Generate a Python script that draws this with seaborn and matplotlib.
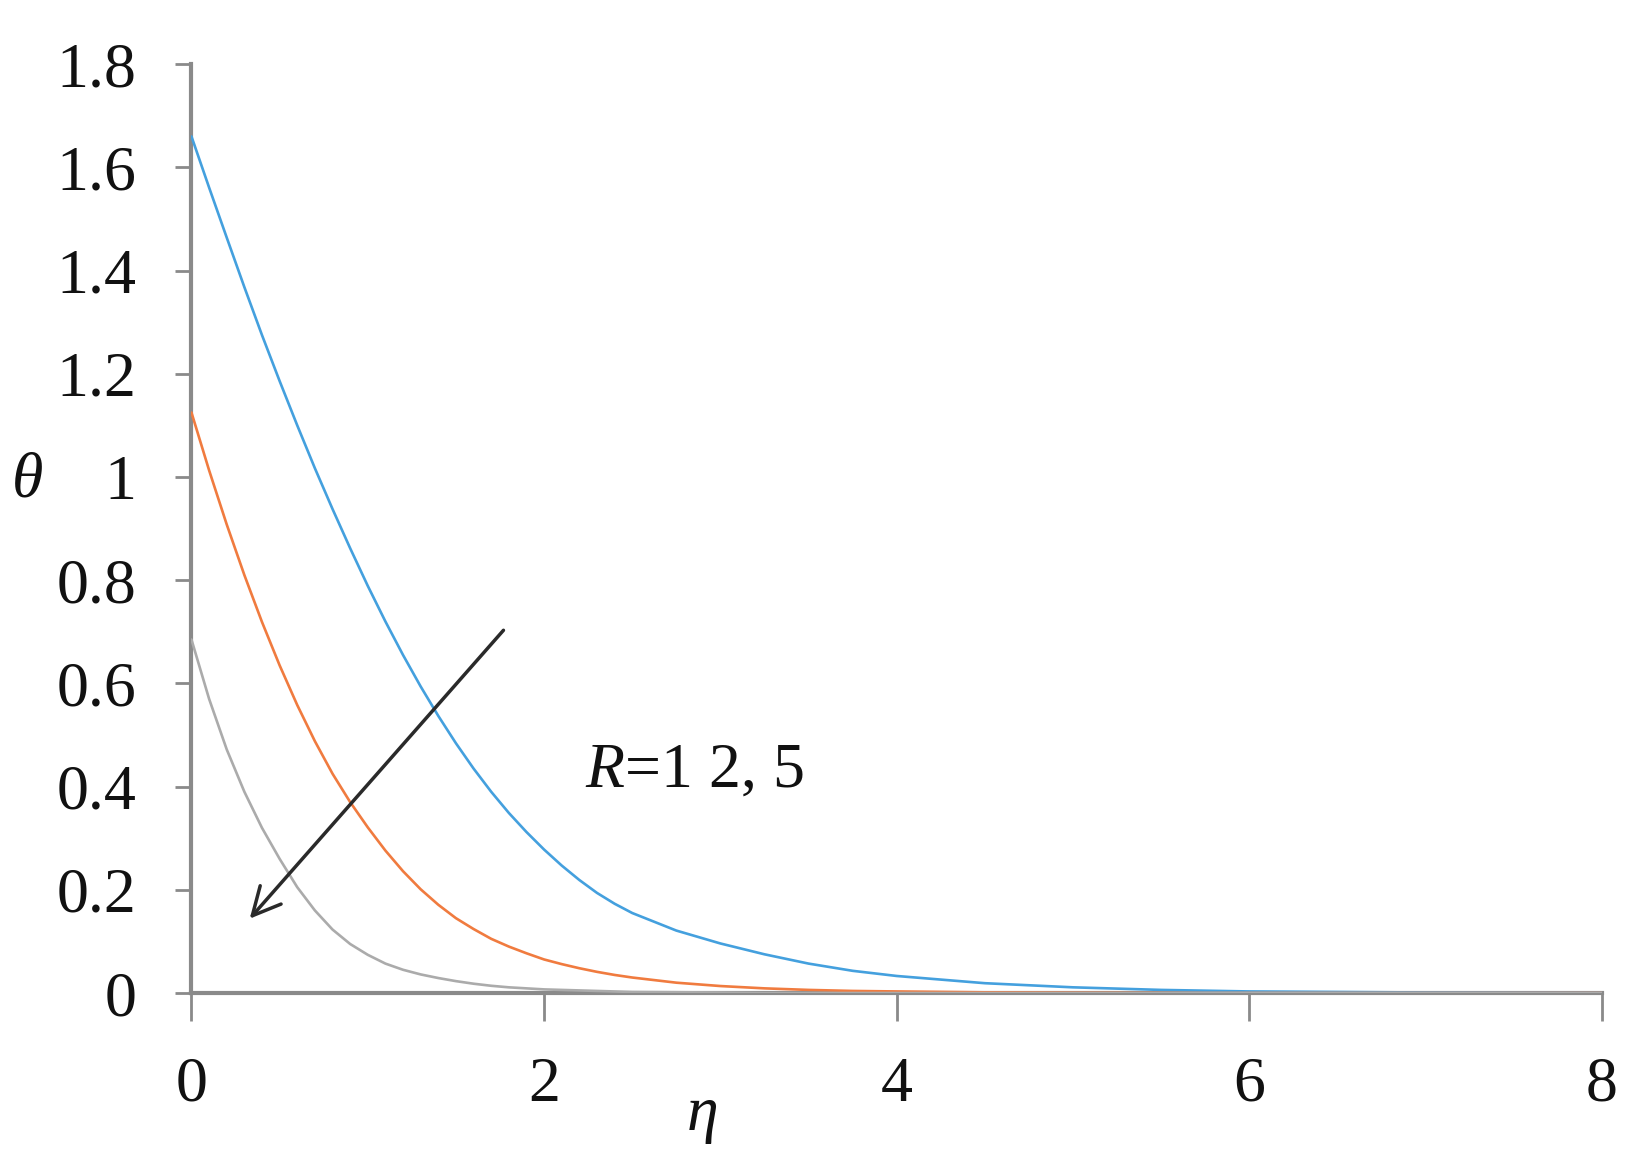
import matplotlib
matplotlib.use("Agg")
import matplotlib.pyplot as plt
import pandas as pd
import seaborn as sns

# eta grid and temperature profiles
eta = [0, 0.1, 0.2, 0.3, 0.4, 0.5, 0.6, 0.7, 0.8, 0.9, 1.0, 1.1, 1.2, 1.3,
       1.4, 1.5, 1.6, 1.7, 1.8, 1.9, 2.0, 2.1, 2.2, 2.3, 2.4, 2.5, 2.75,
       3.0, 3.25, 3.5, 3.75, 4.0, 4.5, 5.0, 5.5, 6.0, 6.5, 7.0, 8.0]
theta_r1 = [1.66, 1.561, 1.464, 1.368, 1.275, 1.186, 1.100, 1.017, 0.938,
            0.862, 0.789, 0.720, 0.655, 0.594, 0.537, 0.484, 0.435, 0.390,
            0.349, 0.312, 0.278, 0.247, 0.219, 0.194, 0.173, 0.155, 0.121,
            0.096, 0.075, 0.057, 0.043, 0.033, 0.019, 0.011, 0.006, 0.003,
            0.002, 0.001, 0.0]
theta_r2 = [1.125, 1.013, 0.908, 0.810, 0.719, 0.635, 0.558, 0.488, 0.425,
            0.370, 0.321, 0.276, 0.236, 0.201, 0.171, 0.145, 0.124, 0.105,
            0.090, 0.077, 0.065, 0.056, 0.048, 0.041, 0.035, 0.030, 0.020,
            0.0135, 0.009, 0.006, 0.004, 0.003, 0.0013, 0.0006, 0.0, 0.0,
            0.0, 0.0, 0.0]
theta_r5 = [0.685, 0.570, 0.472, 0.390, 0.320, 0.260, 0.205, 0.160, 0.123,
            0.095, 0.074, 0.057, 0.045, 0.036, 0.029, 0.023, 0.018, 0.014,
            0.011, 0.009, 0.007, 0.006, 0.005, 0.004, 0.003, 0.002, 0.0015,
            0.001, 0.0, 0.0, 0.0, 0.0, 0.0, 0.0, 0.0, 0.0, 0.0, 0.0, 0.0]
series = ["R=1", "R=2", "R=5"]
colors = ["#44a0de", "#f07b3f", "#ababab"]
yticks = [0, 0.2, 0.4, 0.6, 0.8, 1, 1.2, 1.4, 1.6, 1.8]
ytick_labels = ["0", "0.2", "0.4", "0.6", "0.8", "1", "1.2", "1.4", "1.6", "1.8"]
xticks = [0, 2, 4, 6, 8]

df = pd.DataFrame({
    "eta": eta * 3,
    "theta": theta_r1 + theta_r2 + theta_r5,
    "case": [s for s in series for _ in eta],
})

sns.set_theme(style="ticks")
plt.rcParams["font.family"] = ["Liberation Serif", "DejaVu Serif"]
plt.rcParams["mathtext.fontset"] = "custom"
plt.rcParams["mathtext.rm"] = "Liberation Serif"
plt.rcParams["mathtext.it"] = "Liberation Serif:italic"

fig = plt.figure(figsize=(16.52, 11.61), dpi=100)
ax = fig.add_axes([0.1159, 0.1447, 0.8538, 0.8000])

sns.lineplot(data=df, x="eta", y="theta", hue="case", palette=colors,
             linewidth=1.9, legend=False, ax=ax, zorder=3)

ax.set_xlim(0, 8)
ax.set_ylim(0, 1.8)
ax.set_xticks(xticks)
ax.set_xticklabels([str(t) for t in xticks])
ax.set_yticks(yticks)
ax.set_yticklabels(ytick_labels)
ax.set_xlabel("")
ax.set_ylabel("")

sns.despine(ax=ax)
for side in ["left", "bottom"]:
    ax.spines[side].set_color("#8a8a8a")
    ax.spines[side].set_linewidth(3)
ax.tick_params(axis="y", length=11.5, width=2, color="#8a8a8a",
               labelsize=46, pad=28, labelcolor="#111111")
ax.tick_params(axis="x", length=20, width=2, color="#8a8a8a",
               labelsize=46, pad=26, labelcolor="#111111")

# axis symbols
fig.text(0.007, 0.585, "θ", fontsize=46, style="italic", color="#111111",
         va="center", ha="left")
fig.text(0.425, 0.040, "η", fontsize=46, style="italic", color="#111111",
         va="center", ha="center")

# arrow across the curves and its label
ax.annotate("", xy=(0.32, 0.14), xytext=(1.78, 0.707),
            arrowprops=dict(arrowstyle="->", color="#2a2a2a", lw=2.5,
                            mutation_scale=50))
ax.text(2.23, 0.40, r"$R$=1 2, 5", fontsize=46, color="#111111",
        va="baseline", ha="left")

fig.savefig("out.png", dpi=100, facecolor="white")
